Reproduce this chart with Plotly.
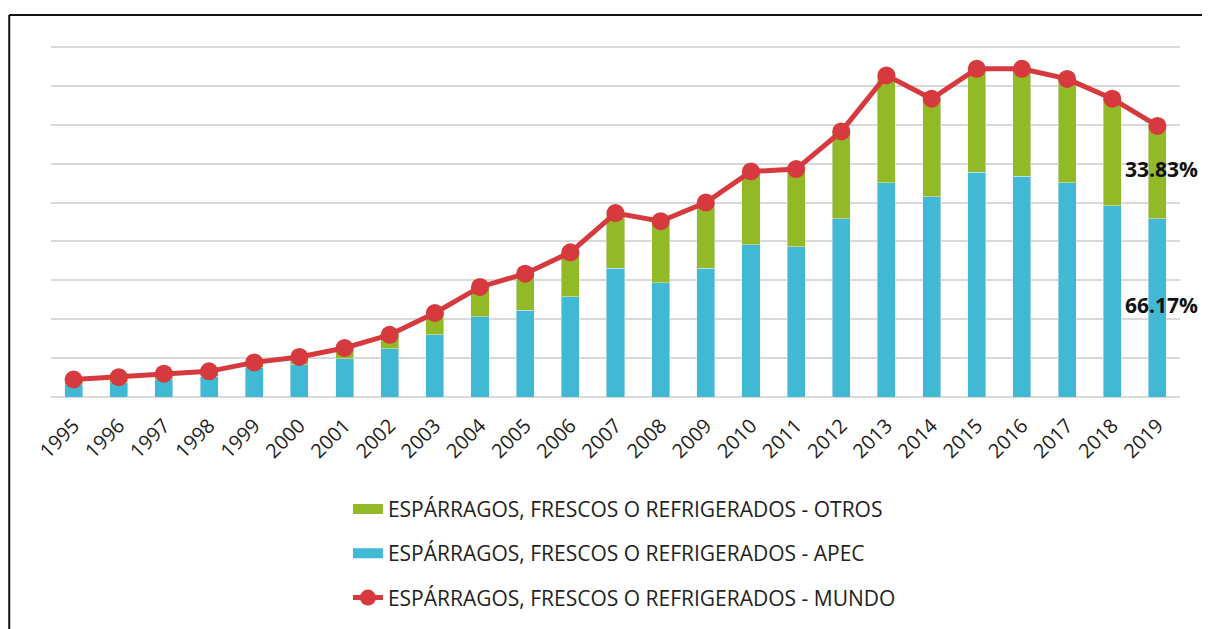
import plotly.graph_objects as go

years = [str(y) for y in range(1995, 2020)]
apec = [0.32, 0.37, 0.45, 0.53, 0.75, 0.83, 0.98, 1.24, 1.60, 2.06, 2.23, 2.58, 3.31,
        2.94, 3.31, 3.91, 3.87, 4.59, 5.51, 5.15, 5.78, 5.68, 5.51, 4.92, 4.59]
otros = [0.13, 0.14, 0.15, 0.13, 0.14, 0.20, 0.28, 0.36, 0.56, 0.77, 0.94, 1.14, 1.42,
         1.58, 1.69, 1.89, 1.99, 2.24, 2.76, 2.52, 2.66, 2.76, 2.67, 2.75, 2.38]
mundo = [0.45, 0.51, 0.60, 0.66, 0.89, 1.03, 1.26, 1.60, 2.16, 2.83, 3.17, 3.72, 4.73,
         4.52, 5.00, 5.80, 5.86, 6.83, 8.27, 7.67, 8.44, 8.44, 8.18, 7.67, 6.97]
share_labels = ["66.17%", "33.83%"]

names = ["ESPÁRRAGOS, FRESCOS O REFRIGERADOS - APEC",
         "ESPÁRRAGOS, FRESCOS O REFRIGERADOS - OTROS",
         "ESPÁRRAGOS, FRESCOS O REFRIGERADOS - MUNDO"]

GREEN = "#92B926"
BLUE = "#41B8D4"
RED = "#D63A3E"

fig = go.Figure()
fig.add_trace(go.Bar(x=years, y=apec, name=names[0], marker_color=BLUE, width=0.4,
                     showlegend=False))
fig.add_trace(go.Bar(x=years, y=otros, name=names[1], marker_color=GREEN, width=0.4,
                     showlegend=False))
fig.add_trace(go.Scatter(x=years, y=mundo, name=names[2], mode="lines+markers",
                         line=dict(color=RED, width=5), marker=dict(color=RED, size=18),
                         legendrank=3, legendgroup="c"))
# legend swatches for the bar series (wide rectangles like the original)
fig.add_trace(go.Scatter(x=[None], y=[None], name=names[1], mode="lines",
                         line=dict(color=GREEN, width=10), legendrank=1, legendgroup="b",
                         hoverinfo="skip"))
fig.add_trace(go.Scatter(x=[None], y=[None], name=names[0], mode="lines",
                         line=dict(color=BLUE, width=10), legendrank=2, legendgroup="a",
                         hoverinfo="skip"))

last = len(years) - 1
label_y = [apec[last] / 2, apec[last] + otros[last] / 2]
for txt, yv in zip(share_labels, label_y):
    fig.add_annotation(xref="x", yref="y", x=last, y=yv,
                       text="<b>" + txt + "</b>", showarrow=False, xshift=4, yshift=3,
                       font=dict(family="Open Sans", size=21, color="#111111"))

# chart frame
fig.add_shape(type="line", xref="paper", yref="paper", x0=-0.037, x1=1.03, y0=1.088, y1=1.088,
              line=dict(color="#111111", width=2))
fig.add_shape(type="line", xref="paper", yref="paper", x0=-0.037, x1=-0.037, y0=1.088, y1=-0.8,
              line=dict(color="#111111", width=2))
fig.add_shape(type="line", xref="paper", yref="paper", x0=1.0244, x1=1.0244, y0=1.085, y1=-0.8,
              line=dict(color="#D0D0D0", width=2))

fig.update_layout(
    width=1202, height=621,
    margin=dict(l=43, r=30, t=38, b=231),
    paper_bgcolor="white", plot_bgcolor="white",
    barmode="stack", bargap=0.6,
    font=dict(family="Open Sans", size=20, color="#222222"),
    xaxis=dict(type="category", tickangle=-45, showgrid=False, showline=False,
               ticks="", tickfont=dict(size=20, color="#222222"), range=[-0.5, 24.5],
               ticklabelstandoff=12),
    yaxis=dict(range=[0, 9.026], tickvals=list(range(0, 10)), showticklabels=False,
               showgrid=True, gridcolor="#D9D9D9", gridwidth=2, zeroline=True,
               zerolinecolor="#D9D9D9", zerolinewidth=2, showline=False, ticks=""),
    legend=dict(orientation="v", x=0.263, xanchor="left", y=-0.258, yanchor="top",
                traceorder="grouped", tracegroupgap=14,
                font=dict(size=21, color="#222222")),
    showlegend=True,
)

fig.write_html("out.html")
